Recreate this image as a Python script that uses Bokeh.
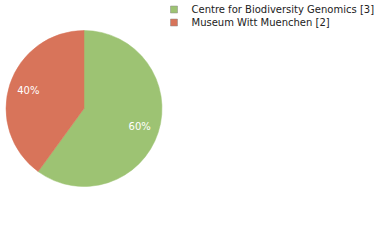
import numpy as np
from bokeh.plotting import figure
from bokeh.models import Range1d
from bokeh.core.properties import value
from bokeh.embed import file_html
from bokeh.resources import INLINE

labels = ["Centre for Biodiversity Genomics", "Museum Witt Muenchen"]
counts = [3, 2]
colors = ["#9dc373", "#d8745a"]

W, H = 380, 240
p = figure(width=W, height=H, output_backend="svg", toolbar_location=None,
           x_range=Range1d(0, W), y_range=Range1d(0, H), min_border=0)
p.axis.visible = False
p.grid.visible = False
p.outline_line_color = None
p.background_fill_color = "white"
p.border_fill_color = "white"

cx, cy, R = 83.5, H - 108.0, 78.0
vals = np.array(counts, dtype=float)
frac = vals / vals.sum()
cum = np.concatenate([[0], np.cumsum(frac)])
start = np.pi / 2 - 2 * np.pi * cum[:-1]
end = np.pi / 2 - 2 * np.pi * cum[1:]
p.wedge(x=[cx] * len(vals), y=[cy] * len(vals), radius=R,
        start_angle=list(start), end_angle=list(end), direction="clock",
        fill_color=colors, line_color=colors, line_width=0.5)

mid = (start + end) / 2
lr = 0.75 * R
pct = [f"{int(round(f * 100))}%" for f in frac]
p.text(x=list(cx + lr * np.cos(mid)), y=list(cy + lr * np.sin(mid)), text=pct,
       text_color="white", text_font=value("DejaVu Sans"), text_font_size="10px",
       text_align="center", text_baseline="middle")

# legend
ly = [H - (9 + 13 * i) for i in range(len(labels))]
p.rect(x=[173.5] * len(labels), y=ly, width=7, height=7, fill_color=colors,
       line_color="#888888", line_width=0.5)
p.text(x=[191] * len(labels), y=ly, text=[f"{l} [{c}]" for l, c in zip(labels, counts)],
       text_color="#222222", text_font=value("DejaVu Sans"), text_font_size="10px",
       text_align="left", text_baseline="middle")

open("out.html", "w").write(file_html(p, INLINE))
